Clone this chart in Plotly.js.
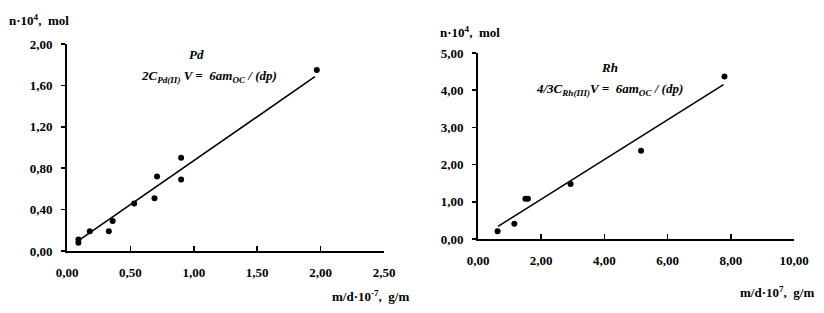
<!DOCTYPE html>
<html>
<head>
<meta charset="utf-8">
<script src="https://cdn.plot.ly/plotly-3.0.1.min.js"></script>
<style>html,body{margin:0;padding:0;background:#fff;}#chart{width:824px;height:313px;}</style>
</head>
<body>
<div id="chart"></div>
<script>
// Pd panel data
const pdX = [0.09, 0.09, 0.18, 0.33, 0.36, 0.53, 0.69, 0.71, 0.90, 0.90, 1.97];
const pdY = [0.11, 0.08, 0.19, 0.19, 0.29, 0.46, 0.51, 0.72, 0.69, 0.90, 1.75];
const pdFitX = [0.09, 1.955];
const pdFitY = [0.10, 1.684];
// Rh panel data
const rhX = [0.62, 1.15, 1.50, 1.58, 2.93, 5.16, 7.80];
const rhY = [0.21, 0.41, 1.08, 1.08, 1.48, 2.37, 4.37];
const rhFitX = [0.635, 7.77];
const rhFitY = [0.34, 4.15];
// tick values
const pdXTicks = [0, 0.5, 1.0, 1.5, 2.0, 2.5];
const pdYTicks = [0, 0.4, 0.8, 1.2, 1.6, 2.0];
const rhXTicks = [0, 2, 4, 6, 8, 10];
const rhYTicks = [0, 1, 2, 3, 4, 5];

const W = 824, H = 313;
const px = v => v / W;
const py = v => 1 - v / H;
const FONT = '"Liberation Serif", "Times New Roman", serif';

const mk = {color: '#000', size: 6};
const ln = {color: '#000', width: 1.6};

const traces = [
  {x: pdFitX, y: pdFitY, mode: 'lines', line: ln, xaxis: 'x', yaxis: 'y', hoverinfo: 'skip'},
  {x: pdX, y: pdY, mode: 'markers', marker: mk, xaxis: 'x', yaxis: 'y'},
  {x: rhFitX, y: rhFitY, mode: 'lines', line: ln, xaxis: 'x2', yaxis: 'y2', hoverinfo: 'skip'},
  {x: rhX, y: rhY, mode: 'markers', marker: mk, xaxis: 'x2', yaxis: 'y2'}
];

const tickFont = {family: FONT, size: 13, color: '#000', weight: 'bold'};
function xa(domain, range, ticks, anchor) {
  return {domain, range, tickvals: ticks, tickformat: '.2f', anchor,
    showline: true, linecolor: '#000', linewidth: 2, ticks: 'inside', ticklen: 5,
    tickcolor: '#000', tickwidth: 1.5, showgrid: false, zeroline: false,
    tickfont: tickFont, ticklabelstandoff: 8, fixedrange: true};
}
function ya(domain, range, ticks, anchor) {
  return {domain, range, tickvals: ticks, tickformat: '.2f', anchor,
    showline: true, linecolor: '#000', linewidth: 2, ticks: 'outside', ticklen: 4,
    tickcolor: '#000', tickwidth: 1.5, showgrid: false, zeroline: false,
    tickfont: tickFont, ticklabelstandoff: 6, fixedrange: true};
}

const annFont = {family: FONT, size: 13, color: '#000'};
function ann(text, x, y, xanchor) {
  return {text, x: px(x), y: py(y), xref: 'paper', yref: 'paper',
    xanchor: xanchor || 'left', yanchor: 'middle', showarrow: false, font: annFont};
}

const layout = {
  width: W, height: H,
  margin: {l: 0, r: 0, t: 0, b: 0},
  paper_bgcolor: '#fff', plot_bgcolor: '#fff',
  showlegend: false,
  separators: ', ',
  font: {family: FONT, size: 13, color: '#000'},
  xaxis: xa([px(67), px(384)], [0, 2.5], pdXTicks, 'y'),
  yaxis: ya([1 - 251 / H, 1 - 44 / H], [0, 2.0], pdYTicks, 'x'),
  xaxis2: xa([px(478), px(794)], [0, 10], rhXTicks, 'y2'),
  yaxis2: ya([1 - 239 / H, 1 - 53 / H], [0, 5], rhYTicks, 'x2'),
  annotations: [
    ann('<b>n·10<sup>4</sup>,  mol</b>', 7, 20),
    ann('<b>m/d·10<sup>-7</sup>,  g/m</b>', 330, 296),
    ann('<b>n·10<sup>4</sup>,  mol</b>', 438, 32),
    ann('<b>m/d·10<sup>7</sup>,  g/m</b>', 738, 292),
    ann('<b><i>Pd</i></b>', 196, 55, 'center'),
    ann('<b><i>2C</i></b><b><i><sub>Pd(II)</sub></i></b><b><i> V =  6am</i></b><b><i><sub>OC</sub></i></b><b><i> / (dp)</i></b>', 209, 77, 'center'),
    ann('<b><i>Rh</i></b>', 609, 67, 'center'),
    ann('<b><i>4/3C</i></b><b><i><sub>Rh(III)</sub></i></b><b><i>V =  6am</i></b><b><i><sub>OC</sub></i></b><b><i> / (dp)</i></b>', 609, 89, 'center')
  ]
};

Plotly.newPlot('chart', traces, layout, {displayModeBar: false, staticPlot: true});
</script>
</body>
</html>
